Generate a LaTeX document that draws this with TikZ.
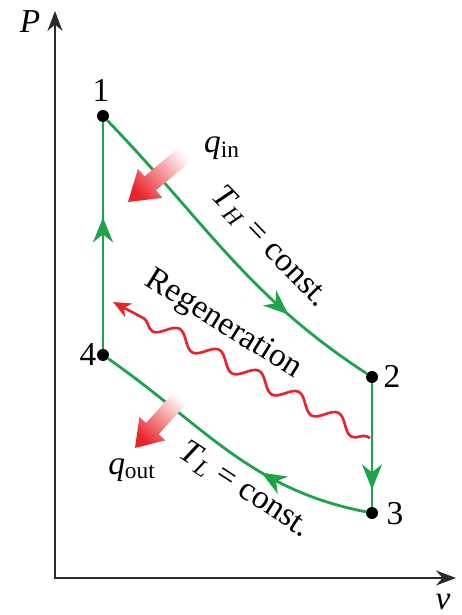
\documentclass[tikz,border=0pt]{standalone}
\usepackage{amsmath}
\usepackage{fontspec}
\setmainfont{Liberation Serif}
\usetikzlibrary{arrows.meta, positioning, decorations.pathmorphing, decorations.markings}
\definecolor{cycgreen}{HTML}{1FA34A}
\definecolor{heatred}{HTML}{E8242B}
\definecolor{axisgray}{HTML}{2A2A2A}

\begin{document}
\begin{tikzpicture}[
    font=\fontsize{19}{22}\selectfont,
    axis/.style={{Stealth[length=4mm,width=3mm]}-{Stealth[length=4mm,width=3mm]}, line width=1pt, axisgray},
    state/.style={circle, fill=black, inner sep=0pt, minimum size=2.4mm},
    process/.style={cycgreen, line width=1.6pt},
    midarrow/.style={postaction={decorate}, decoration={markings, mark=at position #1 with {\arrow{Stealth[length=5mm,width=4mm,inset=1.6mm]}}}},
    heat/.style={top color=white, bottom color=heatred, middle color=heatred!50, shading angle=#1},
    regen/.style={heatred, line width=1.5pt, -{Stealth[length=3.5mm,width=3mm,inset=1mm]}, decorate, decoration={snake, amplitude=1.5mm, segment length=9mm, pre length=0.6mm, post length=3.5mm}}
]
\useasboundingbox (0,0) rectangle (9.24,12.3);

% Axes
\coordinate (orig) at (1.10,0.74);
\coordinate (p_top) at (1.10,12.08);
\coordinate (v_end) at (9.12,0.74);
\draw[axis] (p_top) -- (orig) -- (v_end);
\node (p_lbl) at (0.60,11.86) {\textit{P}};
\node (v_lbl) at (8.86,0.26) {\textit{v}};

% States
\node[state] (s1) at (2.06,9.98) {};
\node[state] (s2) at (7.44,4.76) {};
\node[state] (s3) at (7.44,2.04) {};
\node[state] (s4) at (2.06,5.20) {};
\node (s1_lbl) at (2.02,10.50) {1};
\node (s2_lbl) at (7.84,4.78) {2};
\node (s3_lbl) at (7.90,2.02) {3};
\node (s4_lbl) at (1.76,5.20) {4};

% Cycle
\draw[process, midarrow=0.73] (s1) to[out=-46, in=147] (s2);
\draw[process, midarrow=0.86] (s2) -- (s3);
\draw[process, midarrow=0.37] (s3) to[out=169, in=-35] (s4);
\draw[process, midarrow=0.58] (s4) -- (s1);

% Process labels
\node[rotate=-46] (th_lbl) at (5.40,7.36) {\textit{T}\textsubscript{\textit{H}} = const.};
\node[rotate=-33] (tl_lbl) at (4.90,2.50) {\textit{T}\textsubscript{\textit{L}} = const.};

% Heat in and out
\begin{scope}[shift={(2.56,8.26)}, rotate=-140]
  \shade[heat=-50] (0,0) -- (-0.58,0.38) -- (-0.58,0.18) -- (-1.56,0.18) -- (-1.56,-0.18) -- (-0.58,-0.18) -- (-0.58,-0.38) -- cycle;
\end{scope}
\node (qin_lbl) at (4.44,9.34) {\textit{q}\textsubscript{in}};
\begin{scope}[shift={(2.70,3.34)}, rotate=-132]
  \shade[heat=-42] (0,0) -- (-0.52,0.35) -- (-0.52,0.17) -- (-1.42,0.17) -- (-1.42,-0.17) -- (-0.52,-0.17) -- (-0.52,-0.35) -- cycle;
\end{scope}
\node (qout_lbl) at (2.64,2.90) {\textit{q}\textsubscript{out}};

% Regeneration
\coordinate (reg_start) at (7.40,3.54);
\coordinate (reg_end) at (2.26,6.26);
\draw[regen] (reg_start) -- (reg_end);
\node[rotate=-32] (reg_lbl) at (4.46,5.80) {Regeneration};
\end{tikzpicture}
\end{document}
